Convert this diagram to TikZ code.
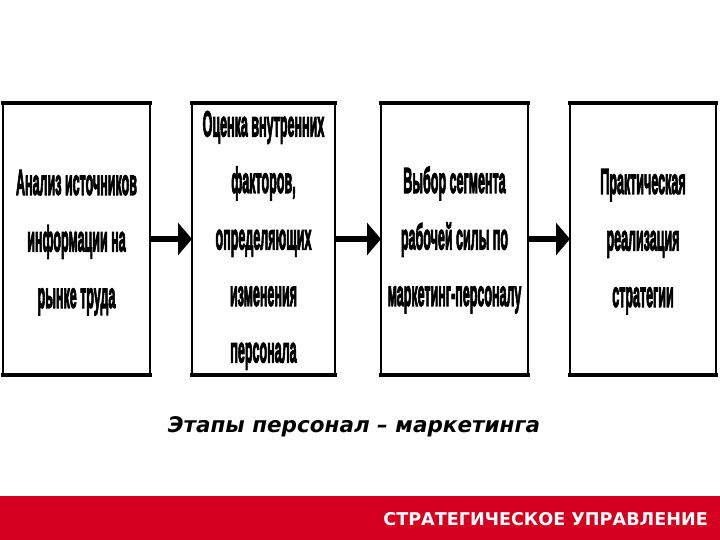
\documentclass[tikz,border=0pt]{standalone}
\usepackage{fontspec}
\setmainfont{Liberation Sans}
\newfontfamily\dvfont{DejaVu Sans}
\newfontfamily\boxfont{Liberation Sans Bold}[FakeBold=4]
\usetikzlibrary{arrows.meta}
\definecolor{barred}{RGB}{213,0,32}
\newcommand{\boxtxt}[1]{\scalebox{0.348}[1]{\fontsize{36}{56.5}\boxfont\selectfont\begin{tabular}{@{}c@{}}#1\end{tabular}}}
\tikzset{
  stage/.style={draw=black, line width=2pt, minimum height=270pt, inner sep=0pt, fill=white},
  stagetext/.style={inner sep=0pt},
  flow/.style={line width=5.5pt, -{Triangle[length=14pt,width=32pt]}, shorten >=-1pt},
  edge/.style={line width=4.5pt, shorten <=-1pt, shorten >=-1pt}
}
\begin{document}
\begin{tikzpicture}[x=1pt,y=-1pt]
\useasboundingbox (0,0) rectangle (720,540);
\fill[white] (0,0) rectangle (720,540);
\node[stage, minimum width=147pt] (b1) at (76.5,239) {};
\node[stage, minimum width=143pt] (b2) at (263.5,239) {};
\node[stage, minimum width=147pt] (b3) at (454.5,239) {};
\node[stage, minimum width=146pt] (b4) at (643,239) {};
\node[stagetext] (t1) at (76.5,240) {\boxtxt{Анализ источников\\информации на\\рынке труда}};
\node[stagetext] (t2) at (263.5,238) {\boxtxt{Оценка внутренних\\факторов,\\определяющих\\изменения\\персонала}};
\node[stagetext] (t3) at (454.5,238) {\boxtxt{Выбор сегмента\\рабочей силы по\\маркетинг-персоналу}};
\node[stagetext] (t4) at (643,239) {\boxtxt{Практическая\\реализация\\стратегии}};
\foreach \b in {b1,b2,b3,b4}{
  \draw[edge] (\b.north west) -- (\b.north east);
  \draw[edge] (\b.south west) -- (\b.south east);
}
\draw[flow] (b1.east) -- (b2.west);
\draw[flow] (b2.east) -- (b3.west);
\draw[flow] (b3.east) -- (b4.west);
\node (cap) at (354,427) {\dvfont\fontsize{21.5}{25}\selectfont\bfseries\itshape Этапы персонал – маркетинга};
\fill[barred] (0,496) rectangle (720,540);
\node[anchor=east, text=white, inner sep=0pt] (bar) at (708,519) {\dvfont\fontsize{17.6}{20}\selectfont\bfseries СТРАТЕГИЧЕСКОЕ УПРАВЛЕНИЕ};
\end{tikzpicture}
\end{document}
